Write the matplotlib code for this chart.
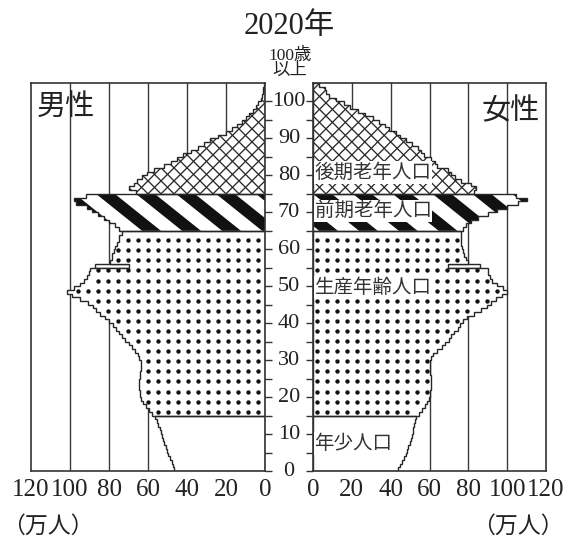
import numpy as np
import matplotlib
matplotlib.use("Agg")
import matplotlib.pyplot as plt
from matplotlib.patches import Polygon, Rectangle
from matplotlib.collections import LineCollection, PolyCollection
import matplotlib.transforms as mtrans

plt.rcParams['font.family'] = ['Liberation Serif', 'Noto Sans CJK JP']

# ---------------- data (万人, by single year of age 0..104) ----------------
male = [46.5, 47, 47.5, 48.5, 49.5, 50.5, 51, 52, 52.5, 53, 53.5, 54, 55, 55.5, 56.5,
        58, 59.5, 61, 62.5, 63.5, 64, 64, 64.5, 64.5, 64.5, 64, 64, 63.5, 63.5, 63.5,
        64.5, 65, 66.5, 68, 70, 72, 73.5, 75, 76.5, 78, 80, 82, 84.5, 86.5, 88,
        91, 95, 99, 101.5, 98, 95, 93, 91.5, 90.5, 89.5,
        70,
        79.5, 78.5, 78.5, 77.5, 77, 76, 75, 75, 73.5,
        75, 77, 80, 82.5, 85.5, 88.5, 91.5, 97, 98, 92,
        66, 70, 67, 65.5, 63, 60.5, 57, 52, 48, 45, 42, 38, 34.5, 31.5, 28,
        24, 20, 17, 14.5, 12, 10, 8, 6, 4.5, 3.5, 2, 1.5, 1, 1, 0.5]
female = [44, 45, 46, 47, 48, 48.5, 49, 50, 50.5, 51, 51.5, 51.5, 52, 52.5, 53,
          54.5, 56, 57.5, 58.5, 59.5, 60, 60.5, 61, 61, 61, 61, 60.5, 60, 60, 60,
          61, 62, 64, 66.5, 68, 70, 71, 72.5, 74.5, 75.5, 77, 79.5, 83, 86.5, 89.5,
          91.5, 94.5, 97.5, 100, 98, 95, 92, 91, 90, 90,
          69.5,
          80, 79, 78, 77, 76.5, 76, 76, 76, 76,
          77, 79, 81.5, 85, 90, 95, 100, 105.5, 110, 104.5,
          83, 84, 81.5, 76, 73, 71, 69.5, 64, 63, 61, 57, 55.5, 54, 51, 48,
          45, 43, 39, 37, 34, 31, 27, 23, 19, 16, 12, 8, 6.5, 6, 3]
slot_age = 55            # 1966 (hinoeuma) row drawn as an open slot
slot_male = 87
slot_female = 86

groups = [(0, 15, 'plain'), (15, 65, 'dots'), (65, 75, 'stripes'), (75, 105, 'cross')]
group_labels = ['年少人口', '生産年齢人口', '前期老年人口', '後期老年人口']
x_ticks = [0, 20, 40, 60, 80, 100, 120]
y_ticks = [0, 10, 20, 30, 40, 50, 60, 70, 80, 90, 100]
title = '2020年'

# ---------------- figure ----------------
W, H, DPI = 568, 541, 100
fig = plt.figure(figsize=(W / DPI, H / DPI), dpi=DPI)
fig.patch.set_facecolor('white')
AX_TOP, AX_BOT = 83, 471
axL = fig.add_axes([31 / W, (H - AX_BOT) / H, 234 / W, (AX_BOT - AX_TOP) / H])
axR = fig.add_axes([313 / W, (H - AX_BOT) / H, 233 / W, (AX_BOT - AX_TOP) / H])
VMAX, AMAX = 120, 105
SX = 234 / VMAX           # px per 万
SY = (AX_BOT - AX_TOP) / AMAX   # px per year
EDGE = '#262626'


def step_poly(vals, a0, a1):
    verts = [(0, a0)]
    for a in range(a0, a1):
        verts += [(vals[a], a), (vals[a], a + 1)]
    verts.append((0, a1))
    return verts


def draw_panel(ax, vals, slot_val, side, dot_start, stripe_phase):
    ax.set_xlim((VMAX, 0) if side < 0 else (0, VMAX))
    ax.set_ylim(0, AMAX)
    for g in x_ticks[1:-1]:
        ax.axvline(g, color='#3a3a3a', lw=1.0, zorder=1)
    # open slot row
    ax.add_patch(Rectangle((0, slot_age), slot_val, 1, fc='white', ec=EDGE,
                           lw=1.0, zorder=2))
    for a0, a1, kind in groups:
        verts = step_poly(vals, a0, a1)
        face = Polygon(verts, closed=True, fc='white', ec='none', zorder=3)
        ax.add_patch(face)
        if kind == 'dots':
            cols = np.arange(dot_start, VMAX, 10 / SX)
            rows = 16.05 + 2.73 * np.arange(18)
            px, py = [], []
            for r in rows:
                lo = max(a0, int(r - 0.55))
                hi = min(a1 - 1, int(r + 0.55))
                lim = min(vals[lo], vals[hi])
                for c in cols:
                    if c + 1.1 < lim:
                        px.append(c)
                        py.append(r)
            sc = ax.scatter(px, py, s=10, c='#111111', linewidths=0, zorder=4)
            sc.set_clip_path(face)
        elif kind == 'stripes':
            P = 40 / SX
            w = 0.47 * P
            m = (1 / SY) / (1.25 / SX)      # age per 万 along a stripe
            dv = (a1 - a0) / m
            polys = []
            for c in np.arange(stripe_phase - 12 * P, stripe_phase + 12 * P, P):
                if side < 0:
                    polys.append([(c, a0), (c + w, a0), (c + w + dv, a1), (c + dv, a1)])
                else:
                    polys.append([(c, a0), (c + w, a0), (c + w - dv, a1), (c - dv, a1)])
            pc = PolyCollection(polys, facecolors='#111111', edgecolors='none', zorder=4)
            ax.add_collection(pc)
            pc.set_clip_path(face)
        elif kind == 'cross':
            k = SX / SY
            sp = 13 / SX
            span = (a1 - a0) / k
            segs = []
            for c in np.arange(-160, 260, sp):
                segs.append([(c, a0), (c + span, a1)])
                segs.append([(c, a0), (c - span, a1)])
            lc = LineCollection(segs, colors='#2a2a2a', linewidths=0.95, zorder=4)
            ax.add_collection(lc)
            lc.set_clip_path(face)
        ax.add_patch(Polygon(verts, closed=True, fill=False, ec=EDGE, lw=1.0, zorder=5))

    for s in ax.spines.values():
        s.set_color('#333333')
        s.set_linewidth(1.2)
        s.set_zorder(6)
    ax.set_xticks(x_ticks)
    ax.set_xticklabels([str(t) for t in x_ticks])
    ax.tick_params(axis='x', length=0, pad=6, labelsize=18, colors='#222222')
    ax.set_yticks(np.arange(0, 101, 5))
    if side < 0:
        ax.yaxis.tick_right()
    else:
        ax.yaxis.tick_left()
    ax.tick_params(axis='y', direction='out', length=5, width=1.0, color='#333333',
                   labelleft=False, labelright=False)


draw_panel(axL, male, slot_male, -1, 3.4, -28.7)
draw_panel(axR, female, slot_female, +1, 2.3, 23.7)

# region labels (right panel)
label_ages = [7.4, 49.7, 70.4, 80.8]
for lab, a in zip(group_labels, label_ages):
    axR.text(0.8, a, lab, ha='left', va='center', fontsize=14, color='#333333',
             family=['Noto Sans CJK JP'], zorder=7,
             bbox=dict(fc='white', ec='none', pad=0.6))

# centre age labels
tr = mtrans.blended_transform_factory(fig.transFigure, axL.transData)
for a in y_ticks:
    fig.text(289 / W, a, str(a), transform=tr, ha='center', va='center',
             fontsize=16, color='#222222')

fig.text(289 / W, 1 - 26 / H, title, ha='center', va='center', fontsize=22,
         color='#222222')
fig.text(290 / W, 1 - 63 / H, '100歳\n以上', ha='center', va='center',
         fontsize=12.5, linespacing=0.9, color='#222222')
fig.text(66 / W, 1 - 107 / H, '男性', ha='center', va='center', fontsize=21,
         color='#222222', family=['Noto Sans CJK JP'])
fig.text(511 / W, 1 - 111 / H, '女性', ha='center', va='center', fontsize=21,
         color='#222222', family=['Noto Sans CJK JP'])
fig.text(48 / W, 1 - 526 / H, '（万人）', ha='center', va='center', fontsize=16.5,
         color='#222222', family=['Noto Sans CJK JP'])
fig.text(518 / W, 1 - 526 / H, '（万人）', ha='center', va='center', fontsize=16.5,
         color='#222222', family=['Noto Sans CJK JP'])

fig.savefig('out.png', dpi=DPI)
